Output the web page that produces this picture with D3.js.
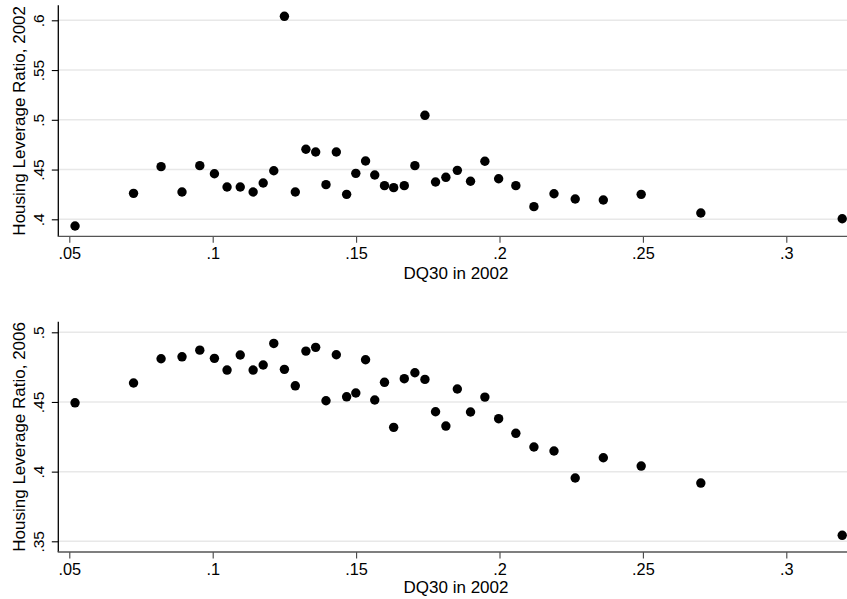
<!DOCTYPE html>
<html>
<head>
<meta charset="utf-8">
<script src="https://cdn.jsdelivr.net/npm/d3@7"></script>
<style>
  body { margin: 0; background: #fff; }
  svg { display: block; }
  text { font-family: "Liberation Sans", Arial, Helvetica, sans-serif; fill: #000; }
</style>
</head>
<body>
<svg id="chart" width="847" height="599"></svg>
<script>
// DQ30 share in 2002 (bin means), shared by both panels
const dq30 = [
  0.0520, 0.0724, 0.0820, 0.0893, 0.0955, 0.1006, 0.1050, 0.1096, 0.1141, 0.1176,
  0.1213, 0.1250, 0.1288, 0.1325, 0.1359, 0.1395, 0.1431, 0.1467, 0.1499, 0.1533,
  0.1565, 0.1599, 0.1631, 0.1668, 0.1705, 0.1740, 0.1777, 0.1813, 0.1853, 0.1899,
  0.1949, 0.1997, 0.2057, 0.2120, 0.2190, 0.2264, 0.2362, 0.2494, 0.2702, 0.3195
];

// Housing leverage ratio, 2002
const leverage2002 = [
  0.3933, 0.4261, 0.4529, 0.4274, 0.4539, 0.4458, 0.4325, 0.4325, 0.4274, 0.4365,
  0.4488, 0.6040, 0.4274, 0.4704, 0.4676, 0.4348, 0.4676, 0.4251, 0.4462, 0.4586,
  0.4445, 0.4338, 0.4318, 0.4338, 0.4539, 0.5045, 0.4375, 0.4422, 0.4492, 0.4382,
  0.4583, 0.4408, 0.4338, 0.4127, 0.4257, 0.4204, 0.4194, 0.4251, 0.4063, 0.4006
];

// Housing leverage ratio, 2006
const leverage2006 = [
  0.4494, 0.4636, 0.4810, 0.4824, 0.4872, 0.4813, 0.4729, 0.4837, 0.4729, 0.4765,
  0.4920, 0.4734, 0.4616, 0.4865, 0.4892, 0.4509, 0.4839, 0.4537, 0.4564, 0.4803,
  0.4514, 0.4641, 0.4318, 0.4667, 0.4710, 0.4662, 0.4430, 0.4327, 0.4593, 0.4428,
  0.4535, 0.4380, 0.4275, 0.4177, 0.4148, 0.3954, 0.4100, 0.4040, 0.3918, 0.3543
];

const xTicks = [0.05, 0.1, 0.15, 0.2, 0.25, 0.3];
const yTicks2002 = [0.4, 0.45, 0.5, 0.55, 0.6];
const yTicks2006 = [0.35, 0.4, 0.45, 0.5];

const xTitle = "DQ30 in 2002";
const yTitle2002 = "Housing Leverage Ratio, 2002";
const yTitle2006 = "Housing Leverage Ratio, 2006";

// Stata-style labels: drop the leading zero (".05", ".3")
const fmt = v => String(+v.toFixed(2)).replace(/^0\./, ".");

const svg = d3.select("#chart");
const W = 847;
const axisX = 58.3;

// shared horizontal scale
const x = d3.scaleLinear().domain([0.05, 0.3]).range([69.3, 786.3]);

const panels = [
  { values: leverage2002, ticks: yTicks2002, title: yTitle2002,
    domain: [0.4, 0.6], range: [219.3, 20.3], top: 5.3, axisY: 236.3,
    tickBase: 259.5, titleBase: 279 },
  { values: leverage2006, ticks: yTicks2006, title: yTitle2006,
    domain: [0.35, 0.5], range: [541.3, 332.3], top: 321.7, axisY: 552,
    tickBase: 575, titleBase: 593.3 }
];

panels.forEach(p => {
  const y = d3.scaleLinear().domain(p.domain).range(p.range);
  const g = svg.append("g");

  // horizontal grid lines at each y tick
  g.append("g")
    .selectAll("line")
    .data(p.ticks)
    .join("line")
    .attr("x1", axisX).attr("x2", W)
    .attr("y1", d => y(d)).attr("y2", d => y(d))
    .attr("stroke", "#e8e8e8")
    .attr("stroke-width", 1.5);

  // y axis
  const yAxis = g.append("g")
    .attr("transform", `translate(${axisX},0)`)
    .call(d3.axisLeft(y).tickValues(p.ticks).tickFormat(fmt).tickSize(6.5).tickSizeOuter(0));
  yAxis.select(".domain").remove();
  yAxis.selectAll(".tick line").attr("stroke", "#000").attr("stroke-width", 1.1);
  yAxis.selectAll(".tick text")
    .attr("transform", "rotate(-90)")
    .attr("x", 0).attr("y", -14.8).attr("dy", null)
    .attr("text-anchor", "middle")
    .attr("font-size", 15.5)
    .attr("font-family", null)
    .attr("fill", "#000");
  g.append("line")
    .attr("x1", axisX).attr("x2", axisX)
    .attr("y1", p.top).attr("y2", p.axisY)
    .attr("stroke", "#000").attr("stroke-width", 1.3);

  // x axis
  const xAxis = g.append("g")
    .attr("transform", `translate(0,${p.axisY})`)
    .call(d3.axisBottom(x).tickValues(xTicks).tickFormat(fmt).tickSize(6.5).tickSizeOuter(0));
  xAxis.select(".domain").remove();
  xAxis.selectAll(".tick line").attr("stroke", "#444").attr("stroke-width", 1.1);
  xAxis.selectAll(".tick text")
    .attr("y", p.tickBase - p.axisY).attr("dy", null)
    .attr("font-size", 16.3)
    .attr("font-family", null)
    .attr("fill", "#000");
  g.append("line")
    .attr("x1", axisX - 0.6).attr("x2", W)
    .attr("y1", p.axisY).attr("y2", p.axisY)
    .attr("stroke", "#555").attr("stroke-width", 1.3);

  // axis titles
  g.append("text")
    .attr("x", 456).attr("y", p.titleBase)
    .attr("text-anchor", "middle")
    .attr("font-size", 17)
    .text(xTitle);
  g.append("text")
    .attr("transform", `translate(25,${(p.top + p.axisY) / 2}) rotate(-90)`)
    .attr("text-anchor", "middle")
    .attr("font-size", 17)
    .text(p.title);

  // binned scatter points
  g.append("g")
    .selectAll("circle")
    .data(dq30.map((d, i) => [d, p.values[i]]))
    .join("circle")
    .attr("cx", d => x(d[0]))
    .attr("cy", d => y(d[1]))
    .attr("r", 4.7)
    .attr("fill", "#000");
});
</script>
</body>
</html>
